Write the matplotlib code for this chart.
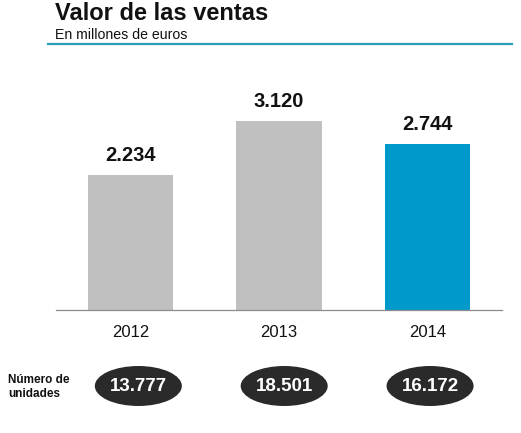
import matplotlib

matplotlib.use("Agg")
import matplotlib.pyplot as plt
from matplotlib.lines import Line2D
from matplotlib.patches import Ellipse

years = ["2012", "2013", "2014"]
ventas = [2234, 3120, 2744]          # millones de euros
ventas_labels = ["2.234", "3.120", "2.744"]
unidades_labels = ["13.777", "18.501", "16.172"]

GRAY = "#c0c0c0"
BLUE = "#0099cc"
TEAL = "#2b9fb6"
DARK = "#2a2a2a"

W, H = 521, 433
plt.rcParams["font.family"] = ["Liberation Sans", "DejaVu Sans"]

fig = plt.figure(figsize=(W / 100, H / 100), dpi=100)
fig.patch.set_facecolor("white")


def px(x, y):
    # pixel coords (top-left origin) -> figure fraction
    return x / W, 1 - y / H


# header
fig.text(*px(55, 20), "Valor de las ventas", fontsize=17, fontweight="bold",
         color="#111111", va="baseline", ha="left")
fig.text(*px(55, 39), "En millones de euros", fontsize=10.2,
         color="#111111", va="baseline", ha="left")
fig.add_artist(Line2D([48 / W, 512 / W], [1 - 43.5 / H, 1 - 43.5 / H],
                      color=TEAL, lw=1.6, transform=fig.transFigure))

# bars
base_px, top_px = 310, 60
ax = fig.add_axes([56 / W, 1 - base_px / H, 446 / W, (base_px - top_px) / H])
x = range(len(years))
colors = [GRAY, GRAY, BLUE]
bars = ax.bar(x, ventas, width=0.572, color=colors)
ax.set_xlim(-0.5, 2.5)
ax.set_ylim(0, (base_px - top_px) * 3120 / 189)
for s in ["top", "left", "right"]:
    ax.spines[s].set_visible(False)
ax.spines["bottom"].set_color("#8c8c8c")
ax.spines["bottom"].set_linewidth(0.9)
ax.set_yticks([])
ax.set_xticks(list(x))
ax.set_xticklabels(years, fontsize=12, color="#111111")
ax.tick_params(axis="x", length=0, pad=11)

for b, lab in zip(bars, ventas_labels):
    ax.annotate(lab, (b.get_x() + b.get_width() / 2, b.get_height()),
                xytext=(0, 10), textcoords="offset points",
                ha="center", va="baseline", fontsize=14.5,
                fontweight="bold", color="#111111")

# unit ellipses
ax2 = fig.add_axes([65.4 / W, 1 - 420 / H, 437.6 / W, 70 / H])
ax2.set_xlim(-0.5, 2.5)
ax2.set_ylim(420, 350)
ax2.axis("off")
for i, lab in enumerate(unidades_labels):
    ax2.add_patch(Ellipse((i, 386), 87 / 145.85, 40, facecolor=DARK,
                          edgecolor="none"))
    ax2.text(i, 386.5, lab, ha="center", va="center", fontsize=13.5,
             fontweight="bold", color="white")

fig.text(*px(8, 387), "Número de\nunidades", fontsize=8.5, fontweight="bold",
         color="#111111", ha="left", va="center", linespacing=1.25)

fig.savefig("out.png", dpi=100)
